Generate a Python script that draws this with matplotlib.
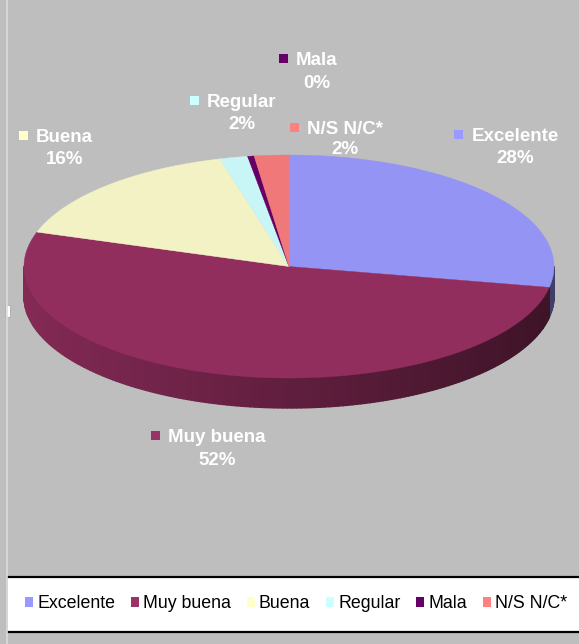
import numpy as np
import matplotlib
matplotlib.use("Agg")
import matplotlib.pyplot as plt
from matplotlib.patches import Polygon, Rectangle, Patch

plt.rcParams['font.family'] = ['Liberation Sans', 'DejaVu Sans']

# datos (porcentaje de respuestas)
categorias = ["Excelente", "Muy buena", "Buena", "Regular", "Mala", "N/S N/C*"]
valores = [28.0, 52.0, 15.8, 1.7, 0.4, 2.1]
colores = ["#9999FF", "#993366", "#FFFFCC", "#CCFFFF", "#660066", "#FF8080"]
colores_cara = ["#9494F5", "#922E5E", "#F2F2C4", "#C8F5F5", "#660066", "#F07878"]

# geometría del pastel 3D (pixeles)
cx, cy, rx, ry, prof = 289, 266.5, 265, 111.5, 30
# posición de las etiquetas: centro del nombre (x, y) y y del porcentaje
pos_etiquetas = [(515, 134.5, 156), (217, 435, 458.5), (64.5, 135, 157),
                 (242, 100, 122), (316.5, 58, 81), (345, 127, 147)]

fig = plt.figure(figsize=(5.79, 6.44), dpi=100)
fig.patch.set_facecolor("#BEBEBE")
ax = fig.add_axes([0, 0, 1, 1])
ax.set_xlim(0, 579)
ax.set_ylim(644, 0)
ax.axis("off")


def punto(theta):
    t = np.radians(theta)
    return cx + rx * np.sin(t), cy - ry * np.cos(t)


total = sum(valores)
acum = np.concatenate([[0], np.cumsum(valores)]) / total * 360

# lado del pastel (solo la parte frontal, de 90 a 270 grados)
for i in range(len(valores)):
    a0, a1 = max(acum[i], 90), min(acum[i + 1], 270)
    if a1 <= a0:
        continue
    base = np.array(matplotlib.colors.to_rgb(colores_cara[i]))
    angs = np.linspace(a0, a1, max(int(a1 - a0), 2))
    for t1, t2 in zip(angs[:-1], angs[1:]):
        x1, y1 = punto(t1)
        x2, y2 = punto(t2)
        f = 0.9 - 0.48 * (((x1 + x2) / 2 - (cx - rx)) / (2 * rx))
        c = np.clip(base * f, 0, 1)
        ax.add_patch(Polygon([(x1, y1), (x2, y2), (x2, y2 + prof), (x1, y1 + prof)],
                             closed=True, fc=c, ec=c, lw=1.0))

# cara superior
for i in range(len(valores)):
    angs = np.linspace(acum[i], acum[i + 1], max(int(acum[i + 1] - acum[i]) * 2, 3))
    pts = [(cx, cy)] + [punto(a) for a in angs]
    ax.add_patch(Polygon(pts, closed=True, fc=colores_cara[i], ec=colores_cara[i], lw=0.3))

# etiquetas de datos
fig.canvas.draw()
rend = fig.canvas.get_renderer()
for i, cat in enumerate(categorias):
    x, yn, yp = pos_etiquetas[i]
    t = ax.text(x, yn + 6.7, cat, ha="center", va="baseline", color="white",
                fontsize=13.5, fontweight="bold")
    ax.text(x, yp + 6.7, f"{round(valores[i])}%", ha="center", va="baseline",
            color="white", fontsize=13.5, fontweight="bold")
    bb = t.get_window_extent(rend)
    izq = ax.transData.inverted().transform((bb.x0, 0))[0]
    ax.add_patch(Rectangle((izq - 17, yn - 4.5), 9, 9, fc=colores[i], ec="none"))

# caja de la leyenda
ax.add_patch(Rectangle((8, 577), 571, 55, fc="white", ec="none"))
ax.plot([8, 579], [577, 577], color="black", lw=1.6)
ax.plot([8, 579], [632, 632], color="black", lw=1.6)
ax.plot([7, 7], [0, 644], color="#DCDCDC", lw=1.2)
ax.add_patch(Rectangle((5, 305), 5, 12, fc="white", ec="#A0A0A0", lw=0.5))

handles = [Patch(facecolor=c, edgecolor="none") for c in colores]
fig.legend(handles, categorias, ncol=6, loc="center",
           bbox_to_anchor=(296 / 579, 1 - 604 / 644), frameon=False,
           fontsize=12.8, handlelength=0.46, handleheight=0.46,
           handletextpad=0.23, columnspacing=0.88, borderpad=0)

fig.savefig("out.png", dpi=100, facecolor=fig.get_facecolor())
